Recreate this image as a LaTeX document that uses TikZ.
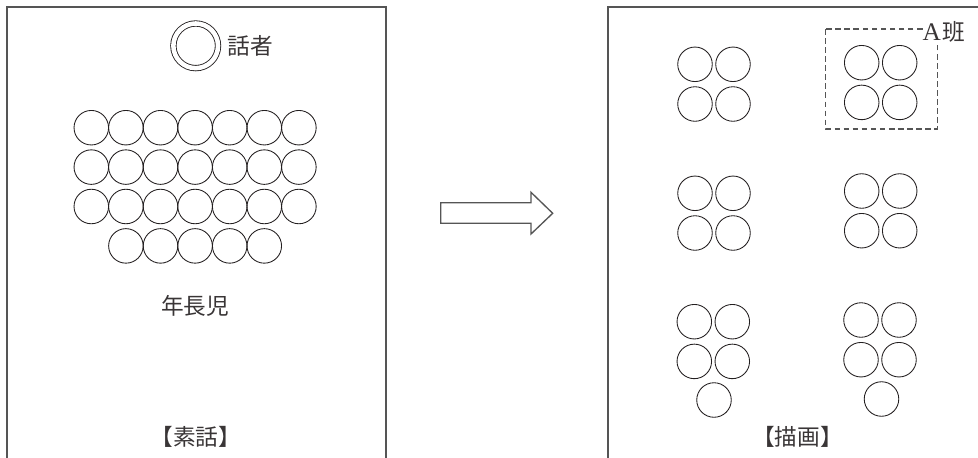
\documentclass[tikz,border=0pt]{standalone}
\usepackage{fontspec}
\setmainfont{Liberation Serif}
\newfontfamily\jpfont{Noto Sans CJK JP}
\usetikzlibrary{positioning}
\definecolor{DiagGray}{HTML}{555555}
\definecolor{DiagInk}{HTML}{231F20}

\begin{document}
\begin{tikzpicture}[
    x=0.75pt, y=-0.75pt,
    frame/.style={draw=DiagGray, line width=1pt},
    seat/.style={circle, draw=DiagInk, line width=0.65pt, minimum size=25.9pt, inner sep=0pt},
    label/.style={font=\fontsize{17}{20}\selectfont\jpfont, text=DiagInk!90, inner sep=0pt},
    groupbox/.style={draw=DiagGray, line width=0.9pt, dash pattern=on 4.2pt off 2.6pt}
  ]
  \useasboundingbox (0,0) rectangle (978,457);
  \begin{scope}
    \clip (0,0) rectangle (978,457);
    \draw[frame] (7,7) rectangle (386,480);
    \draw[frame] (608,7) rectangle (1000,480);
  \end{scope}

  \node[seat, minimum size=33.5pt, double, double distance=3.4pt] (speaker) at (195.7,45.8) {};
  \node[label, right=6.5pt of speaker] (speakerlabel) {話者};

  \foreach \r in {1,2,3}
    \foreach \c in {1,...,7}
      \node[seat] (k-\r-\c) at ({91.3+34.6*(\c-1)},{127.7+39.4*(\r-1)}) {};
  \foreach \c in {2,...,6}
    \node[seat] (k-4-\c) at ({91.3+34.6*(\c-1)},245.9) {};

  \node[label] (kids) at (195,306) {年長児};
  \node[label] (storytitle) at (195.7,436.7) {\kern-.5em【素話】\kern-.5em};

  \draw[frame] (440.7,202.7) -- (531,202.7) -- (531,192.3) -- (552.7,213.3)
    -- (531,234) -- (531,223.3) -- (440.7,223.3) -- cycle;

  \foreach \g/\gx/\gy in {1/695/64.3, 2/861.7/62.7, 3/695/193.3, 4/861.7/191, 5/694.3/321.7, 6/861/320}
    \foreach \r in {1,2}
      \foreach \c in {1,2}
        \node[seat] (g\g-\r-\c) at ({\gx+38*(\c-1)},{\gy+39.7*(\r-1)}) {};
  \node[seat] (g5-3) at (714,400) {};
  \node[seat] (g6-3) at (881.5,399) {};

  \draw[groupbox] (825.7,29) rectangle (937.3,129);
  \node[label, font=\fontsize{19}{22}\selectfont, fill=white] (groupa) at (944,32) {A{\fontsize{17}{20}\selectfont\jpfont\kern1.5pt 班}};

  \node[label] (drawtitle) at (797.5,436.7) {\kern-.5em【描画】\kern-.5em};
\end{tikzpicture}
\end{document}
